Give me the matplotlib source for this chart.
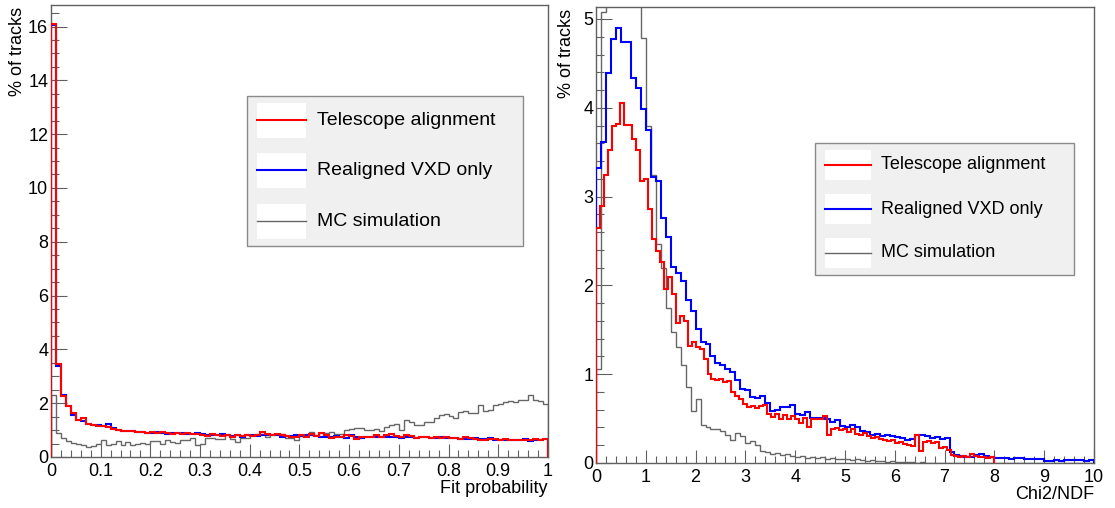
import numpy as np
import matplotlib
matplotlib.use("Agg")
import matplotlib.pyplot as plt
from matplotlib.patches import Rectangle
from matplotlib.ticker import MultipleLocator, FuncFormatter

plt.rcParams["font.family"] = ["Liberation Sans", "DejaVu Sans"]

series_names = ["Telescope alignment", "Realigned VXD only", "MC simulation"]
series_colors = ["#ff0000", "#0000ff", "#666666"]

# ---- left pad: fit probability, 100 bins in [0, 1] ----
fitprob_range = (0.0, 1.0)
fitprob_telescope = [
    16.10, 3.45, 2.25, 1.90, 1.62, 1.37, 1.45, 1.22, 1.20, 1.15,
    1.14, 1.10, 1.05, 1.00, 0.96, 0.95, 0.97, 0.93, 0.92, 0.90,
    0.92, 0.90, 0.94, 0.88, 0.85, 0.90, 0.84, 0.88, 0.86, 0.84,
    0.80, 0.78, 0.85, 0.80, 0.78, 0.82, 0.74, 0.80, 0.78, 0.82,
    0.78, 0.82, 0.92, 0.85, 0.80, 0.84, 0.80, 0.78, 0.75, 0.76,
    0.80, 0.76, 0.84, 0.78, 0.88, 0.82, 0.70, 0.75, 0.73, 0.80,
    0.78, 0.68, 0.74, 0.76, 0.75, 0.80, 0.74, 0.82, 0.85, 0.78,
    0.74, 0.80, 0.78, 0.70, 0.73, 0.75, 0.72, 0.74, 0.70, 0.76,
    0.72, 0.70, 0.68, 0.74, 0.70, 0.66, 0.65, 0.62, 0.66, 0.68,
    0.64, 0.66, 0.64, 0.65, 0.64, 0.62, 0.62, 0.66, 0.62, 0.66,
]
fitprob_vxd = [
    16.05, 3.38, 2.32, 1.88, 1.55, 1.38, 1.35, 1.22, 1.20, 1.18,
    1.15, 1.22, 1.08, 1.02, 0.98, 0.96, 0.95, 0.94, 0.92, 0.90,
    0.90, 0.92, 0.90, 0.86, 0.90, 0.88, 0.90, 0.85, 0.84, 0.88,
    0.84, 0.80, 0.82, 0.80, 0.85, 0.80, 0.78, 0.80, 0.76, 0.82,
    0.80, 0.78, 0.82, 0.80, 0.82, 0.80, 0.76, 0.78, 0.78, 0.80,
    0.78, 0.80, 0.82, 0.78, 0.76, 0.74, 0.76, 0.78, 0.75, 0.72,
    0.80, 0.74, 0.72, 0.75, 0.74, 0.76, 0.75, 0.74, 0.76, 0.74,
    0.72, 0.76, 0.74, 0.72, 0.75, 0.74, 0.70, 0.72, 0.74, 0.72,
    0.72, 0.70, 0.66, 0.67, 0.68, 0.70, 0.68, 0.66, 0.70, 0.64,
    0.62, 0.65, 0.64, 0.62, 0.64, 0.66, 0.61, 0.63, 0.64, 0.68,
]
fitprob_mc = [
    2.30, 0.90, 0.72, 0.58, 0.52, 0.47, 0.45, 0.38, 0.42, 0.47,
    0.63, 0.45, 0.47, 0.59, 0.45, 0.55, 0.45, 0.47, 0.51, 0.47,
    0.59, 0.59, 0.47, 0.63, 0.57, 0.51, 0.63, 0.63, 0.69, 0.45,
    0.47, 0.69, 0.69, 0.67, 0.68, 0.82, 0.67, 0.57, 0.70, 0.72,
    0.82, 0.85, 0.84, 0.76, 0.84, 0.84, 0.85, 0.69, 0.70, 0.64,
    0.82, 0.83, 0.94, 0.82, 0.88, 0.90, 0.94, 0.84, 0.85, 1.00,
    1.05, 1.09, 1.09, 1.00, 1.00, 1.03, 0.97, 1.13, 1.19, 1.21,
    1.00, 1.38, 1.30, 1.19, 1.19, 1.29, 1.29, 1.44, 1.55, 1.58,
    1.53, 1.44, 1.68, 1.70, 1.62, 1.62, 1.93, 1.71, 1.75, 1.93,
    1.96, 2.06, 2.08, 2.03, 2.11, 2.11, 2.30, 2.11, 2.08, 1.96,
]

# ---- right pad: chi2/ndf, 100 bins each ----
chi2_telescope_range = (0.0, 8.0)
chi2_vxd_range = (0.0, 10.0)
chi2_mc_range = (0.0, 10.0)
chi2_telescope = [
    2.65, 2.89, 3.24, 3.53, 3.80, 3.82, 4.05, 3.81, 3.81, 3.65,
    3.53, 3.18, 3.20, 2.86, 2.52, 2.39, 2.26, 1.96, 2.09, 1.90,
    1.58, 1.66, 1.60, 1.32, 1.36, 1.31, 1.28, 1.17, 1.00, 0.95,
    0.93, 0.95, 0.91, 0.92, 0.80, 0.76, 0.72, 0.66, 0.63, 0.64,
    0.62, 0.64, 0.65, 0.55, 0.52, 0.55, 0.50, 0.54, 0.49, 0.53,
    0.49, 0.45, 0.51, 0.40, 0.50, 0.49, 0.50, 0.53, 0.31, 0.38,
    0.39, 0.37, 0.38, 0.35, 0.38, 0.33, 0.32, 0.34, 0.30, 0.28,
    0.29, 0.27, 0.26, 0.25, 0.26, 0.23, 0.24, 0.21, 0.20, 0.19,
    0.32, 0.13, 0.24, 0.25, 0.22, 0.24, 0.17, 0.18, 0.15, 0.09,
    0.08, 0.07, 0.08, 0.07, 0.10, 0.08, 0.07, 0.07, 0.06, 0.07,
]
chi2_vxd = [
    3.32, 3.62, 4.39, 4.77, 4.90, 4.74, 4.74, 4.33, 4.22, 3.99,
    3.75, 3.22, 3.17, 2.76, 2.55, 2.21, 2.14, 2.05, 1.83, 1.71,
    1.51, 1.36, 1.34, 1.21, 1.13, 1.10, 1.06, 1.03, 0.93, 0.83,
    0.82, 0.74, 0.73, 0.75, 0.68, 0.58, 0.60, 0.63, 0.63, 0.65,
    0.55, 0.54, 0.57, 0.51, 0.51, 0.51, 0.50, 0.46, 0.48, 0.42,
    0.40, 0.43, 0.41, 0.36, 0.35, 0.32, 0.33, 0.30, 0.31, 0.30,
    0.29, 0.28, 0.26, 0.27, 0.31, 0.32, 0.30, 0.28, 0.29, 0.27,
    0.28, 0.12, 0.09, 0.08, 0.07, 0.07, 0.09, 0.10, 0.08, 0.07,
    0.06, 0.06, 0.06, 0.05, 0.06, 0.06, 0.05, 0.05, 0.05, 0.05,
    0.02, 0.02, 0.03, 0.02, 0.03, 0.03, 0.03, 0.03, 0.02, 0.03,
]
chi2_mc = [
    1.06, 5.08, 5.90, 6.50, 6.80, 6.70, 6.30, 5.80, 5.40, 4.79,
    3.79, 3.24, 2.47, 2.20, 1.74, 1.47, 1.31, 1.10, 0.86, 0.58,
    0.72, 0.43, 0.40, 0.38, 0.38, 0.36, 0.32, 0.26, 0.34, 0.30,
    0.23, 0.25, 0.20, 0.13, 0.12, 0.10, 0.11, 0.09, 0.10, 0.08,
    0.07, 0.08, 0.06, 0.07, 0.06, 0.07, 0.05, 0.06, 0.05, 0.04,
    0.04, 0.03, 0.04, 0.03, 0.02, 0.03, 0.02, 0.02, 0.01, 0.02,
    0.01, 0.01, 0.01, 0.01, 0.005, 0.01, 0.005, 0.005, 0.005, 0.005,
    0.0, 0.0, 0.0, 0.0, 0.0, 0.0, 0.0, 0.0, 0.0, 0.0,
    0.0, 0.0, 0.0, 0.0, 0.0, 0.0, 0.0, 0.0, 0.0, 0.0,
    0.0, 0.0, 0.0, 0.0, 0.0, 0.0, 0.0, 0.0, 0.0, 0.0,
]

FRAME = "#606060"


def edges(rng, vals):
    return np.linspace(rng[0], rng[1], len(vals) + 1)


def root_frame(ax, xmaj, xmin, ymaj, ymin):
    for s in ax.spines.values():
        s.set_color(FRAME)
        s.set_linewidth(1.0)
    ax.xaxis.set_major_locator(MultipleLocator(xmaj))
    ax.xaxis.set_minor_locator(MultipleLocator(xmin))
    ax.yaxis.set_major_locator(MultipleLocator(ymaj))
    ax.yaxis.set_minor_locator(MultipleLocator(ymin))
    fmt = FuncFormatter(lambda v, p: f"{v:.10g}")
    ax.xaxis.set_major_formatter(fmt)
    ax.yaxis.set_major_formatter(fmt)
    ax.tick_params(which="both", direction="in", top=False, right=False,
                   color=FRAME, width=0.8, labelsize=13)
    ax.tick_params(axis="x", which="major", length=9.6, pad=4)
    ax.tick_params(axis="x", which="minor", length=5)
    ax.tick_params(axis="y", which="major", length=11.5, pad=2)
    ax.tick_params(axis="y", which="minor", length=6)


def root_legend(ax, box, rows, sample_x, text_x, white_h, fontsize):
    ax.add_patch(Rectangle((box[0], box[2]), box[1] - box[0], box[3] - box[2],
                           transform=ax.transAxes, facecolor="#f0f0f0",
                           edgecolor="#8a8a8a", lw=1.0, zorder=6))
    for y, name, color, lw in zip(rows, series_names, series_colors, [1.5, 1.5, 1.0]):
        ax.add_patch(Rectangle((sample_x[0], y - white_h / 2), sample_x[1] - sample_x[0], white_h,
                               transform=ax.transAxes, facecolor="white", edgecolor="none", zorder=7))
        ax.plot(sample_x, [y, y], transform=ax.transAxes, color=color, lw=lw, zorder=8)
        ax.text(text_x, y, name, transform=ax.transAxes, ha="left", va="center",
                fontsize=fontsize, color="black", zorder=8)


fig = plt.figure(figsize=(11.15, 5.08), dpi=100)
fig.patch.set_facecolor("white")

# left pad
ax1 = fig.add_axes([0.0457, 0.1004, 0.4457, 0.8898])
ax1.stairs(fitprob_mc, edges(fitprob_range, fitprob_mc), color=series_colors[2], lw=1.0, zorder=2)
ax1.stairs(fitprob_vxd, edges(fitprob_range, fitprob_vxd), color=series_colors[1], lw=1.5, zorder=3)
ax1.stairs(fitprob_telescope, edges(fitprob_range, fitprob_telescope), color=series_colors[0], lw=1.5, zorder=4)
ax1.set_xlim(0, 1)
ax1.set_ylim(0, 16.8)
root_frame(ax1, 0.1, 0.02, 2, 0.5)
ax1.set_xlabel("Fit probability", loc="right", fontsize=13)
ax1.xaxis.set_label_coords(1.0, -0.051)
ax1.set_ylabel("% of tracks", loc="top", fontsize=13)
ax1.yaxis.set_label_coords(-0.050, 0.996)
root_legend(ax1, (0.394, 0.950, 0.467, 0.799), (0.745, 0.634, 0.522),
            (0.414, 0.513), 0.535, 0.0774, 14)

# right pad
ax2 = fig.add_axes([0.5345, 0.0886, 0.4466, 0.8976])
ax2.stairs(chi2_mc, edges(chi2_mc_range, chi2_mc), color=series_colors[2], lw=1.0, zorder=2)
ax2.stairs(chi2_vxd, edges(chi2_vxd_range, chi2_vxd), color=series_colors[1], lw=1.5, zorder=3)
ax2.stairs(chi2_telescope, edges(chi2_telescope_range, chi2_telescope), color=series_colors[0], lw=1.5, zorder=4)
ax2.set_xlim(0, 10)
ax2.set_ylim(0, 5.135)
root_frame(ax2, 1, 0.2, 1, 0.2)
ax2.set_xlabel("Chi2/NDF", loc="right", fontsize=13)
ax2.xaxis.set_label_coords(1.0, -0.050)
ax2.set_ylabel("% of tracks", loc="top", fontsize=13)
ax2.yaxis.set_label_coords(-0.042, 0.996)
root_legend(ax2, (0.440, 0.960, 0.412, 0.702), (0.654, 0.557, 0.461),
            (0.460, 0.552), 0.572, 0.066, 13)

fig.savefig("out.png", dpi=100, facecolor="white")
